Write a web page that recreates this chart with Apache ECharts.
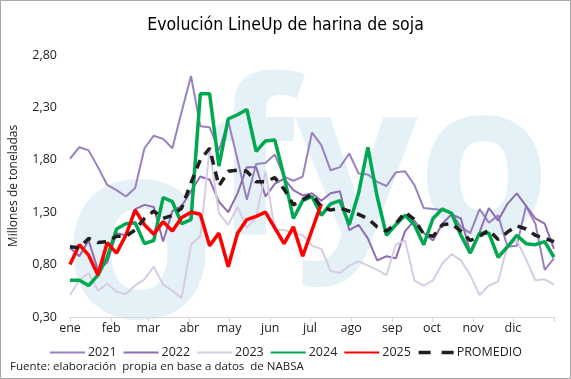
<!DOCTYPE html>
<html><head><meta charset="utf-8">
<script src="https://cdn.jsdelivr.net/npm/echarts@6/dist/echarts.min.js"></script>
<style>html,body{margin:0;padding:0;background:#fff}#c{width:571px;height:379px}</style>
</head><body><div id="c"></div><script>
const months = ['ene','feb','mar','abr','may','jun','jul','ago','sep','oct','nov','dic'];
const monthStartDays = [0,31,59,90,120,151,181,212,243,273,304,334,365];
const seriesNames = ['2021','2022','2023','2024','2025','PROMEDIO'];
const y2021 = [1.81,1.92,1.89,1.73,1.56,1.51,1.45,1.53,1.91,2.03,2.00,1.91,2.26,2.60,2.12,2.11,1.89,2.17,1.80,1.42,1.76,1.77,1.85,1.64,1.60,1.64,2.06,1.94,1.70,1.73,1.86,1.67,1.66,1.59,1.55,1.68,1.69,1.56,1.34,1.33,1.32,1.29,1.16,1.10,1.33,1.20,1.27,0.97,0.98,1.36,1.19,0.75,0.86];
const y2022 = [0.96,0.88,1.03,0.75,0.82,1.10,1.08,1.33,1.37,1.35,1.02,1.31,1.36,1.50,1.64,1.61,1.40,1.30,1.48,1.73,1.73,1.45,1.57,1.62,1.51,1.46,1.48,1.41,1.48,1.50,1.13,1.18,1.05,0.84,0.88,0.86,1.12,1.22,1.10,1.03,1.19,1.28,1.24,0.92,1.11,1.34,1.22,1.38,1.48,1.36,1.24,1.19,0.95];
const y2023 = [0.51,0.65,0.72,0.55,0.62,0.54,0.52,0.60,0.66,0.78,0.61,0.55,0.48,0.99,1.07,1.90,1.29,1.18,1.35,1.15,1.25,1.69,1.13,1.13,1.10,1.08,0.98,0.95,0.74,0.72,0.79,0.83,0.79,0.75,0.70,0.99,1.03,0.65,0.60,0.65,0.81,0.90,0.84,0.70,0.51,0.60,0.64,0.98,1.03,0.85,0.65,0.66,0.61];
const y2024 = [0.65,0.65,0.60,0.70,0.87,1.14,1.19,1.20,1.00,1.03,1.44,1.40,1.19,1.23,2.43,2.43,1.74,2.19,2.23,2.28,1.88,1.98,1.99,1.64,1.24,1.41,1.45,1.27,1.38,1.41,1.18,1.48,1.92,1.45,1.08,1.18,1.27,1.18,0.99,1.24,1.33,1.29,1.08,0.91,1.10,1.10,0.87,0.97,1.08,1.00,0.99,1.02,0.87];
const y2025 = [0.80,0.99,0.89,0.70,1.01,0.91,1.08,1.32,1.18,1.09,1.21,1.12,1.25,1.30,1.28,0.98,1.10,0.78,1.10,1.23,1.26,1.30,1.15,1.00,1.16,0.88,1.13,1.38];
const yProm = [0.97,0.96,1.05,1.01,1.02,1.07,1.07,1.13,1.24,1.31,1.24,1.27,1.34,1.58,1.80,1.91,1.55,1.69,1.70,1.69,1.59,1.59,1.63,1.52,1.37,1.42,1.47,1.35,1.32,1.34,1.31,1.28,1.24,1.16,1.12,1.19,1.30,1.23,1.09,1.07,1.18,1.19,1.12,1.03,1.07,1.13,1.04,1.11,1.17,1.14,1.08,1.05,1.02];

const fmt = v => v.toFixed(2).replace('.', ',');
const monthPos = monthStartDays.map(d => d * 52 / 365);
const toPts = arr => arr.map((v, i) => [i, v]);
const txt = '#222';
const font = "'Open Sans', sans-serif";

const redData = toPts(y2025);
const last = redData.length - 1;
redData[last] = {value: redData[last], label: {show: true, position: 'top', distance: 9, formatter: p => fmt(p.value[1]), fontSize: 16, color: '#000', fontFamily: font}};

const lineS = (name, data, color, width, extra) => Object.assign({
  name, type: 'line', data, symbol: 'none', showSymbol: false,
  lineStyle: {color, width}, itemStyle: {color}, emphasis: {disabled: true}, animation: false
}, extra || {});

const legendData = seriesNames.map(n => n === 'PROMEDIO'
  ? {name: n, itemStyle: {opacity: 0}, lineStyle: {type: [12, 11], width: 3.5, dashOffset: 0}}
  : {name: n, itemStyle: {opacity: 0}});

const chart = echarts.init(document.getElementById('c'), null, {renderer: 'canvas'});
chart.setOption({
  backgroundColor: '#fff',
  animation: false,
  title: {text: 'Evolución LineUp de harina de soja', left: 'center', top: 11,
    textStyle: {fontFamily: "'Liberation Sans Narrow','DejaVu Sans Condensed',sans-serif", fontSize: 17.5, fontWeight: 'normal', color: '#000'}},
  graphic: [
    {type: 'text', silent: true, z: 0, left: 62, top: 122, style: {text: 'o', font: "bold 250px 'Open Sans'", fill: '#e4f1f6'}},
    {type: 'text', silent: true, z: 0, left: 212, top: 66, style: {text: 'fyo', font: "bold 215px 'Open Sans'", fill: '#e4f1f6'}},
    {type: 'rect', silent: true, z: 100, shape: {x: 0.5, y: 0.5, width: 570, height: 378}, style: {fill: 'none', stroke: '#a6a6a6', lineWidth: 1}},
    {type: 'text', silent: true, left: 10, top: 361, style: {text: 'Fuente: elaboración  propia en base a datos  de NABSA', font: "11.5px 'Open Sans'", fill: txt}}
  ],
  grid: {left: 61, right: 17, top: 55, bottom: 62},
  legend: {data: legendData, top: 341, left: 'center', itemWidth: 35, itemHeight: 14, itemGap: 6,
    textStyle: {fontFamily: font, fontSize: 12.5, color: txt, padding: [0, 0, 0, -2]}},
  xAxis: {type: 'value', min: 0, max: 52,
    axisLine: {show: true, lineStyle: {color: '#d9d9d9', width: 1}},
    axisTick: {show: true, customValues: monthPos, length: 5, lineStyle: {color: '#d9d9d9'}},
    axisLabel: {customValues: monthPos.slice(0, 12), color: txt, fontFamily: font, fontSize: 12.5, margin: 5,
      formatter: v => { let k = monthPos.findIndex(p => Math.abs(p - v) < 0.01); return k >= 0 ? months[k] : ''; }},
    splitLine: {show: false}},
  yAxis: {type: 'value', min: 0.3, max: 2.8, interval: 0.5,
    name: 'Millones de toneladas', nameLocation: 'middle', nameRotate: 90, nameGap: 50,
    nameTextStyle: {fontFamily: font, fontSize: 12, color: txt},
    axisLine: {show: false}, axisTick: {show: false}, splitLine: {show: false},
    axisLabel: {formatter: fmt, color: txt, fontFamily: font, fontSize: 12.5, margin: 13}},
  series: [
    lineS('2021', toPts(y2021), '#9b80c0', 2),
    lineS('2022', toPts(y2022), '#8e6db0', 2),
    lineS('2023', toPts(y2023), '#d8cce4', 2),
    lineS('2024', toPts(y2024), '#00a84f', 3.5),
    lineS('2025', redData, '#ff0000', 3.5),
    lineS('PROMEDIO', toPts(yProm), '#1f1f1f', 3.5, {lineStyle: {color: '#1f1f1f', width: 3.5, type: [9, 7]}})
  ]
});
</script></body></html>
